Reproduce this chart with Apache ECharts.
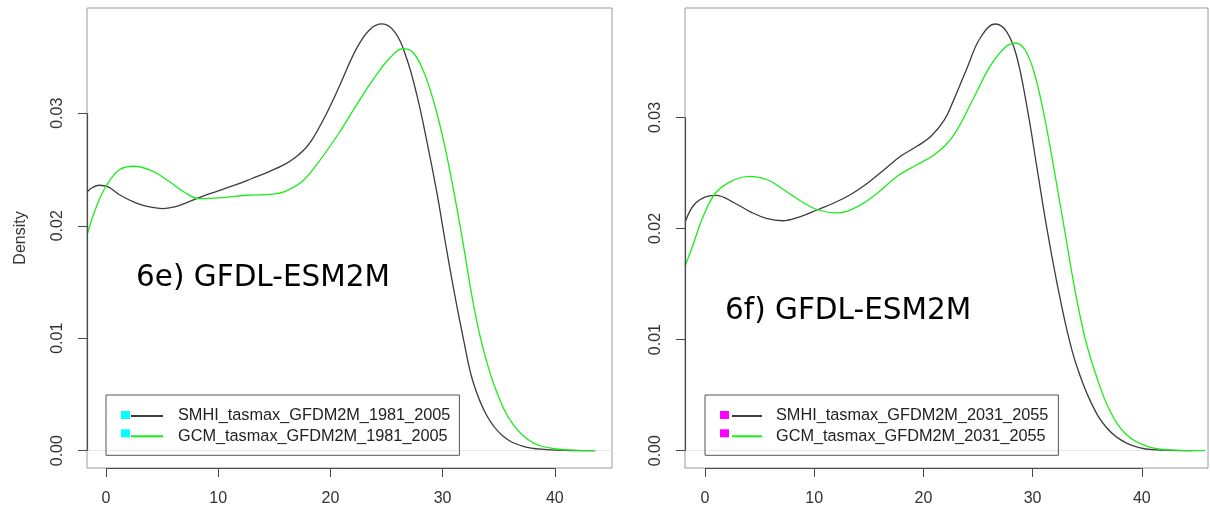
<!DOCTYPE html>
<html><head><meta charset="utf-8">
<script src="https://cdn.jsdelivr.net/npm/echarts@6/dist/echarts.min.js"></script>
<style>html,body{margin:0;padding:0;background:#fff}#c{width:1210px;height:506px}</style>
</head><body><div id="c"></div>
<script>
// ---- data ----
const xTicks = [0, 10, 20, 30, 40];
const yTicks = [0, 0.01, 0.02, 0.03];
const panelTitles = ['6e) GFDL-ESM2M', '6f) GFDL-ESM2M'];
const yAxisName = 'Density';
const namesE = ['SMHI_tasmax_GFDM2M_1981_2005', 'GCM_tasmax_GFDM2M_1981_2005'];
const namesF = ['SMHI_tasmax_GFDM2M_2031_2055', 'GCM_tasmax_GFDM2M_2031_2055'];

const eSmhiX = [-1.7,-1.2,-0.6,0.2,1.2,2.7,4.0,5.05,6.2,7.1,8.6,10.0,11.6,13.0,14.6,16.0,16.9,17.7,18.4,19.6,20.8,22.3,23.5,24.6,25.8,26.8,27.7,28.6,29.5,30.2,31.0,31.9,32.7,33.9,35.4,37.2,39.3,41.5,43.6];
const eSmhiY = [0.02300,0.02340,0.02360,0.02345,0.02276,0.02202,0.02165,0.02152,0.02170,0.02202,0.02262,0.02310,0.02365,0.02420,0.02484,0.02550,0.02610,0.02680,0.02770,0.02987,0.03240,0.03570,0.03743,0.03794,0.03714,0.03487,0.03165,0.02751,0.02290,0.01880,0.01430,0.00973,0.00617,0.00320,0.00128,0.00039,0.00010,0.00002,0.00000];

const eGcmX = [-1.7,-0.9,0.0,1.2,2.5,4.2,5.6,7.1,8.3,10.1,12.5,14.9,16.0,17.5,19.0,20.8,22.3,23.8,25.3,26.5,27.4,28.3,29.2,30.1,31.0,31.9,32.7,33.6,34.8,36.3,38.1,40.2,42.0,43.6];
const eGcmY = [0.01915,0.02158,0.02351,0.02498,0.02529,0.02484,0.02395,0.02291,0.02241,0.02247,0.02271,0.02282,0.02306,0.02395,0.02573,0.02830,0.03070,0.03299,0.03492,0.03574,0.03536,0.03373,0.03107,0.02751,0.02306,0.01802,0.01328,0.00913,0.00528,0.00231,0.00068,0.00015,0.00003,0.00000];

const fSmhiX = [-1.8,-1.0,0.2,1.0,2.7,4.2,5.7,7.1,8.8,10.3,11.8,13.3,14.9,16.4,17.9,19.4,20.7,21.9,22.7,24.0,25.2,26.6,27.6,28.5,29.5,30.4,31.3,32.2,33.1,34.0,35.3,36.8,38.6,41.0,44.7];
const fSmhiY = [0.02060,0.02214,0.02290,0.02299,0.02230,0.02148,0.02088,0.02070,0.02110,0.02169,0.02230,0.02304,0.02410,0.02529,0.02650,0.02740,0.02830,0.02975,0.03140,0.03445,0.03715,0.03841,0.03775,0.03564,0.03085,0.02545,0.02004,0.01525,0.01104,0.00774,0.00444,0.00204,0.00069,0.00009,0.00000];

const fGcmX = [-1.85,-1.2,-0.1,1.1,2.7,4.0,5.7,7.2,8.8,10.3,12.1,14.0,15.8,17.6,19.4,21.0,22.7,24.6,26.1,27.5,28.4,29.3,30.2,31.1,32.05,33.0,33.9,34.8,35.9,37.1,38.6,40.5,42.9,45.8];
const fGcmY = [0.01656,0.01825,0.02124,0.02335,0.02439,0.02470,0.02439,0.02349,0.02245,0.02169,0.02140,0.02200,0.02320,0.02470,0.02574,0.02664,0.02830,0.03175,0.03460,0.03631,0.03670,0.03609,0.03384,0.02995,0.02484,0.01944,0.01435,0.01014,0.00654,0.00355,0.00144,0.00040,0.00005,0.00000];

// ---- styling / layout ----
const zip = (xs, ys) => xs.map((x, i) => [x, ys[i]]);
const FONT = 'Liberation Sans';
const panels = [
  { grid: { left: 87, top: 8, width: 525, height: 460 }, xMin: -1.693, xMax: 45.10, yMin: -0.001538, yMax: 0.03936,
    names: namesE, data: [zip(eSmhiX, eSmhiY), zip(eGcmX, eGcmY)], sq: '#00ffff',
    legend: { left: 106, top: 395, pad: [13, 9, 11, 24], iw: 32, tp: 10 }, sqX: 121,
    title: { left: 136, top: 263 }, showName: true },
  { grid: { left: 685, top: 8, width: 523, height: 460 }, xMin: -1.832, xMax: 46.06, yMin: -0.001557, yMax: 0.03985,
    names: namesF, data: [zip(fSmhiX, fSmhiY), zip(fGcmX, fGcmY)], sq: '#ff00ff',
    legend: { left: 705, top: 395, pad: [13, 10, 11, 26], iw: 30, tp: 9 }, sqX: 720,
    title: { left: 725, top: 296 }, showName: false }
];
const lineColors = ['#3c3c3c', '#19ee19'];
const axisDark = '#4a4a4a';

const option = {
  backgroundColor: '#ffffff',
  animation: false,
  title: panels.map((p, i) => ({
    text: panelTitles[i], left: p.title.left, top: p.title.top, padding: 0,
    textStyle: { fontFamily: 'DejaVu Sans', fontSize: 29.5, fontWeight: 'normal', color: '#000' }
  })),
  grid: panels.map(p => Object.assign({ show: true, borderColor: '#9a9a9a', borderWidth: 1, containLabel: false, outerBoundsMode: 'none' }, p.grid)),
  xAxis: panels.map((p, i) => ({
    type: 'value', gridIndex: i, min: p.xMin, max: p.xMax, position: 'bottom',
    axisLine: { show: false, onZero: false },
    axisTick: { show: true, inside: false, length: 9, customValues: xTicks, lineStyle: { color: axisDark } },
    axisLabel: { show: true, customValues: xTicks, margin: 23, fontFamily: FONT, fontSize: 16, color: '#333' },
    splitLine: { show: false }
  })),
  yAxis: panels.map((p, i) => ({
    type: 'value', gridIndex: i, min: p.yMin, max: p.yMax, position: 'left',
    name: p.showName ? yAxisName : '', nameLocation: 'middle', nameGap: 58,
    nameTextStyle: { fontFamily: FONT, fontSize: 16, color: '#333' },
    axisLine: { show: false, onZero: false },
    axisTick: { show: true, inside: false, length: 9, customValues: yTicks, lineStyle: { color: axisDark } },
    axisLabel: { show: true, customValues: yTicks, rotate: 90, margin: 21, fontFamily: FONT, fontSize: 16, color: '#333',
      formatter: v => v.toFixed(2) },
    splitLine: { show: false }
  })),
  legend: panels.map((p, i) => ({
    data: p.names, orient: 'vertical', left: p.legend.left, top: p.legend.top,
    padding: p.legend.pad, itemWidth: p.legend.iw, itemHeight: 14, itemGap: 4.3,
    borderColor: '#555', borderWidth: 1, selectedMode: false,
    itemStyle: { opacity: 0 },
    textStyle: { fontFamily: FONT, fontSize: 16.3, color: '#222', padding: [0, 0, 0, p.legend.tp] }
  })),
  graphic: panels.flatMap(p => [0, 1].map(k => ({
    type: 'rect', left: p.sqX, top: 411 + k * 18.3, shape: { width: 9, height: 8 },
    style: { fill: p.sq }, z: 100
  }))),
  series: []
};

panels.forEach((p, i) => {
  p.data.forEach((d, k) => {
    const s = {
      name: p.names[k], type: 'line', xAxisIndex: i, yAxisIndex: i, data: d,
      symbol: 'none', showSymbol: false, smooth: 0.4, clip: true,
      lineStyle: { color: lineColors[k], width: 1.3 }, itemStyle: { color: lineColors[k] }, z: 3 + k
    };
    if (k === 0) {
      s.markLine = {
        silent: true, symbol: 'none', label: { show: false }, animation: false,
        data: [
          [{ coord: [xTicks[0], p.yMin] }, { coord: [xTicks[xTicks.length - 1], p.yMin] }],
          [{ coord: [p.xMin, yTicks[0]] }, { coord: [p.xMin, yTicks[yTicks.length - 1]] }]
        ],
        lineStyle: { color: axisDark, width: 1.2, type: 'solid' }
      };
    } else {
      s.markLine = {
        silent: true, symbol: 'none', label: { show: false }, animation: false,
        data: [{ yAxis: yTicks[0] }],
        lineStyle: { color: '#e8e8e8', width: 1, type: 'solid' }, z: 1
      };
    }
    option.series.push(s);
  });
});

const chart = echarts.init(document.getElementById('c'), null, { renderer: 'canvas' });
chart.setOption(option);
</script></body></html>
